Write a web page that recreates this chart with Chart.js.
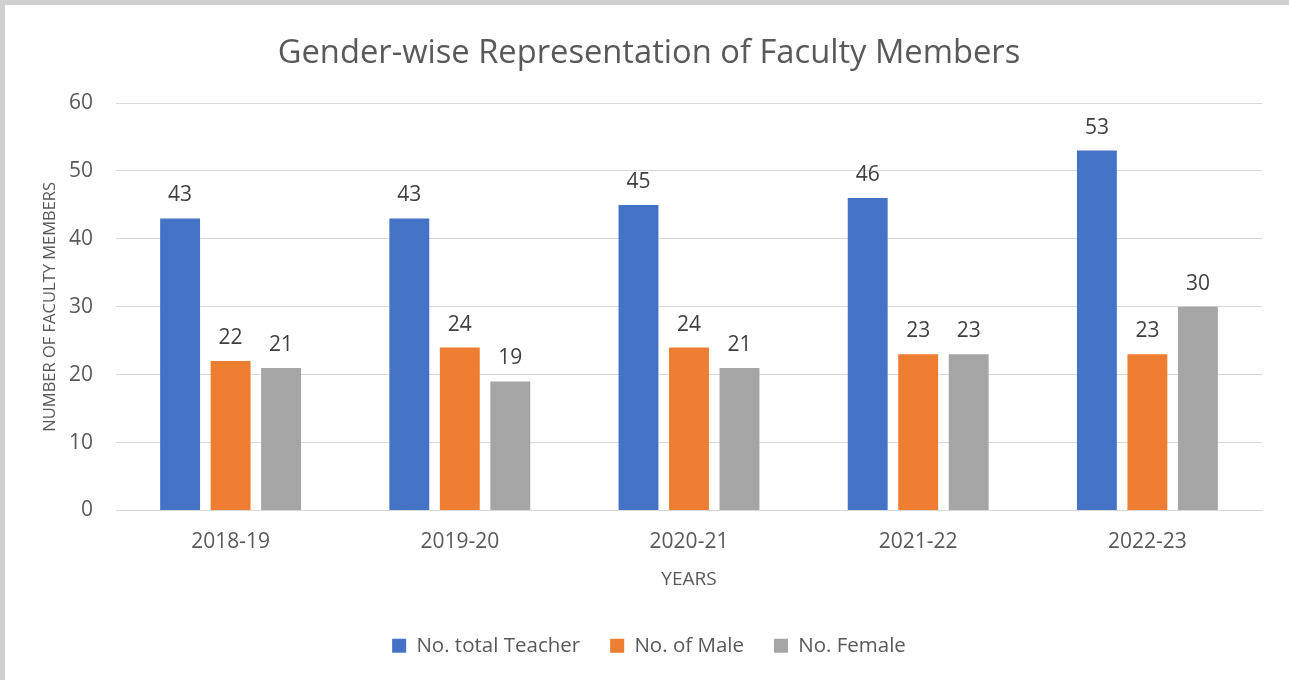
<!DOCTYPE html>
<html><head><meta charset="utf-8">
<script src="https://cdn.jsdelivr.net/npm/chart.js@4.4.1/dist/chart.umd.min.js"></script>
<style>
html,body{margin:0;padding:0;background:#fff;overflow:hidden}
#wrap{position:absolute;left:0;top:0;width:1289px;height:680px}
#bt{position:absolute;left:0;top:0;width:1289px;height:5px;background:#d0cfd0}
#bl{position:absolute;left:0;top:0;width:5px;height:680px;background:#d0cfd0}
</style></head><body>
<div id="wrap"><canvas id="c" width="1289" height="680"></canvas></div>
<div id="bt"></div><div id="bl"></div>
<script>
const categories = ['2018-19', '2019-20', '2020-21', '2021-22', '2022-23'];
const totalTeachers = [43, 43, 45, 46, 53];
const maleTeachers = [22, 24, 24, 23, 23];
const femaleTeachers = [21, 19, 21, 23, 30];
const seriesNames = ['No. total Teacher', 'No. of Male', 'No. Female'];
const yTicks = [0, 10, 20, 30, 40, 50, 60];
const chartTitle = 'Gender-wise Representation of Faculty Members';
const xTitle = 'YEARS';
const yTitle = 'NUMBER OF FACULTY MEMBERS';

const FONT = '"Open Sans", "Noto Sans", sans-serif';
const TEXT = '#595959';

const valueLabels = {
  id: 'valueLabels',
  afterDatasetsDraw(chart) {
    const ctx = chart.ctx;
    ctx.save();
    ctx.font = '21px ' + FONT;
    ctx.fillStyle = '#404040';
    ctx.textAlign = 'center';
    ctx.textBaseline = 'alphabetic';
    chart.data.datasets.forEach((ds, i) => {
      chart.getDatasetMeta(i).data.forEach((el, j) => {
        ctx.fillText(String(ds.data[j]), el.x, el.y - 17);
      });
    });
    ctx.restore();
  }
};

new Chart(document.getElementById('c'), {
  type: 'bar',
  data: {
    labels: categories,
    datasets: [
      { label: seriesNames[0], data: totalTeachers, backgroundColor: '#4472C4' },
      { label: seriesNames[1], data: maleTeachers, backgroundColor: '#ED7D31' },
      { label: seriesNames[2], data: femaleTeachers, backgroundColor: '#A5A5A5' }
    ]
  },
  options: {
    responsive: false,
    animation: false,
    layout: { padding: { left: 36, right: 27, top: 0, bottom: 14 } },
    datasets: { bar: { categoryPercentage: 0.661, barPercentage: 0.79 } },
    plugins: {
      title: {
        display: true, text: chartTitle, color: TEXT,
        font: { family: FONT, size: 32.7, weight: 'normal' },
        padding: { top: 34, bottom: 29.8 }
      },
      legend: {
        position: 'bottom',
        labels: {
          color: TEXT, boxWidth: 14, boxHeight: 14, padding: 30,
          font: { family: FONT, size: 20.5 }
        }
      },
      tooltip: { enabled: false }
    },
    scales: {
      x: {
        grid: { display: false, drawTicks: false },
        border: { color: '#d9d9d9', width: 1 },
        ticks: { color: TEXT, font: { family: FONT, size: 21 }, padding: 19 },
        title: { display: true, text: xTitle, color: TEXT, font: { family: FONT, size: 19 }, padding: { top: -6, bottom: 15 } }
      },
      y: {
        min: 0, max: 60,
        afterBuildTicks(scale) { scale.ticks = yTicks.map(v => ({ value: v })); },
        afterFit(scale) { scale.width = 80; },
        grid: { color: '#d9d9d9', lineWidth: 1, drawTicks: false },
        border: { display: false },
        ticks: { color: TEXT, font: { family: FONT, size: 21 }, padding: 23 },
        title: { display: true, text: yTitle, color: TEXT, font: { family: FONT, size: 16.5 }, padding: { top: 4, bottom: 0 } }
      }
    }
  },
  plugins: [valueLabels]
});
</script>
</body></html>
